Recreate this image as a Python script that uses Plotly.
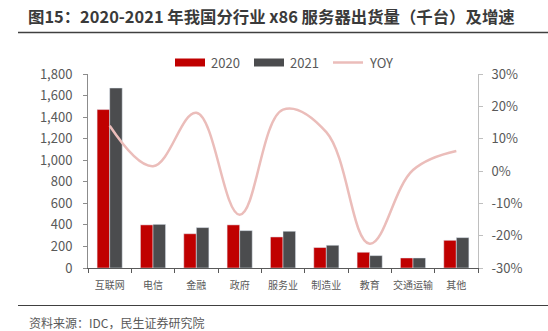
import plotly.graph_objects as go

categories = ["互联网", "电信", "金融", "政府", "服务业", "制造业", "教育", "交通运输", "其他"]
v2020 = [1470, 400, 318, 400, 288, 190, 146, 93, 257]
v2021 = [1670, 405, 375, 347, 341, 211, 115, 93, 282]
yoy = [14.0, 1.5, 18.0, -13.5, 19.0, 12.0, -22.5, 0.3, 6.2]
yoy_ticks = [-30, -20, -10, 0, 10, 20, 30]
yoy_labels = ["-30%", "-20%", "-10%", "0%", "10%", "20%", "30%"]

FONT = "Noto Sans CJK SC"
TXT = "#595959"
RED = "#C00000"
DARK = "#4B4C4E"
PINK = "#EBBDBA"

fig = go.Figure()
fig.add_trace(go.Bar(x=categories, y=v2020, name="2020", marker_color=RED, showlegend=False))
fig.add_trace(go.Bar(x=categories, y=v2021, name="2021", marker_color=DARK, showlegend=False))
fig.add_trace(go.Scatter(x=categories, y=yoy, name="YOY", yaxis="y2", mode="lines",
                         line=dict(color=PINK, width=2.5, shape="spline", smoothing=1.1),
                         showlegend=False))

L, R, T, B = 88, 70, 74, 63

fig.update_layout(
    width=548, height=331,
    margin=dict(l=L, r=R, t=T, b=B),
    paper_bgcolor="white", plot_bgcolor="white",
    font=dict(family=FONT, color=TXT, size=13),
    barmode="group", bargap=0.42, bargroupgap=0,
    title=dict(text="<b>图15：2020-2021 年我国分行业 x86 服务器出货量（千台）及增速</b>",
               x=28/548, xanchor="left", xref="container",
               y=1-17.5/331, yanchor="middle", yref="container",
               font=dict(family=FONT, size=16.4, color="#3A3A3A")),
    xaxis=dict(showline=True, linecolor="#595959", linewidth=1.2, tickangle=0,
               ticks="outside", tickson="boundaries", ticklen=4, tickcolor="#595959",
               tickfont=dict(size=10, color=TXT), ticklabelstandoff=8, showgrid=False),
    yaxis=dict(range=[0, 1800], dtick=200, tickformat=",", showgrid=False,
               showline=True, linecolor="#8C8C8C", linewidth=1,
               ticks="outside", ticklen=4, tickcolor="#8C8C8C",
               tickfont=dict(size=13, color=TXT), ticklabelstandoff=8, zeroline=False),
    yaxis2=dict(range=[-30, 30], tickmode="array", tickvals=yoy_ticks, ticktext=yoy_labels,
                overlaying="y", side="right",
                showgrid=False, showline=True, linecolor="#BFBFBF", linewidth=1,
                ticks="outside", ticklen=4, tickcolor="#BFBFBF",
                tickfont=dict(size=13, color=TXT), ticklabelstandoff=6, zeroline=False),
)

W = 548 - L - R
H = 331 - T - B
def px(x):
    return (x - L) / W
def py(y):
    return (331 - B - y) / H

shapes = [
    dict(type="line", xref="paper", yref="paper", x0=px(18), x1=px(548), y0=py(32.5), y1=py(32.5),
         line=dict(color="#404040", width=1.5)),
    dict(type="line", xref="paper", yref="paper", x0=px(18), x1=px(548), y0=py(305.5), y1=py(305.5),
         line=dict(color="#404040", width=1.2)),
    dict(type="rect", xref="paper", yref="paper", x0=px(175), x1=px(205), y0=py(66.5), y1=py(58.5),
         fillcolor=RED, line=dict(width=0)),
    dict(type="rect", xref="paper", yref="paper", x0=px(254), x1=px(284), y0=py(66.5), y1=py(58.5),
         fillcolor=DARK, line=dict(width=0)),
    dict(type="line", xref="paper", yref="paper", x0=px(333), x1=px(363), y0=py(62.5), y1=py(62.5),
         line=dict(color=PINK, width=2.5)),
]
annotations = [
    dict(text="2020", x=px(209), y=py(62.5), xref="paper", yref="paper", xanchor="left", yanchor="middle",
         showarrow=False, font=dict(size=13, color=TXT)),
    dict(text="2021", x=px(288), y=py(62.5), xref="paper", yref="paper", xanchor="left", yanchor="middle",
         showarrow=False, font=dict(size=13, color=TXT)),
    dict(text="YOY", x=px(367), y=py(62.5), xref="paper", yref="paper", xanchor="left", yanchor="middle",
         showarrow=False, font=dict(size=13, color=TXT)),
    dict(text="资料来源：IDC，民生证券研究院", x=px(27), y=py(322), xref="paper", yref="paper",
         xanchor="left", yanchor="middle", showarrow=False, font=dict(size=12, color=TXT)),
]
fig.update_layout(shapes=shapes, annotations=annotations)

fig.write_html("out.html")
